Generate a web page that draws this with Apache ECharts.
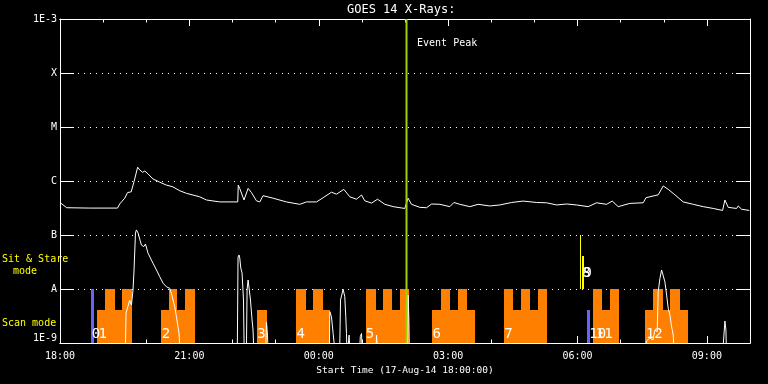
<!DOCTYPE html>
<html><head><meta charset="utf-8">
<script src="https://cdn.jsdelivr.net/npm/echarts@6/dist/echarts.min.js"></script>
<style>html,body{margin:0;padding:0;background:#000;}#c{width:768px;height:384px;}</style>
</head><body><div id="c"></div>
<script>
// ---------- data (time = minutes after 17-Aug-14 18:00) ----------
const START_HOUR = 18;
const X_MAX = 960;
const yTickExponents = [-9, -8, -7, -6, -5, -4, -3];
const yTickLabels = ['1E-9', 'A', 'B', 'C', 'M', 'X', '1E-3'];

// GOES 14 long channel (1-8 A) flux, W/m^2
const longChannel = [
 [0,4.0e-7],[9.3,3.2e-7],[41,3.15e-7],[80,3.15e-7],[83,3.75e-7],[90,4.8e-7],[94,6.1e-7],[99,6.3e-7],[103,9.7e-7],[108,1.8e-6],
 [111,1.6e-6],[115,1.45e-6],[118,1.53e-6],[122.5,1.35e-6],[129.4,1.09e-6],[138.8,9.5e-7],[148,8.4e-7],[157,7.8e-7],[166.6,6.6e-7],[176,5.9e-7],
 [194.4,5.1e-7],[203.8,4.45e-7],[222.3,4.1e-7],[247.3,4.1e-7],[248,8.4e-7],[250,7.3e-7],[252.5,7.8e-7],[256,4.45e-7],[261.7,7.3e-7],[266.4,6.1e-7],
 [273.3,4.3e-7],[278,4.1e-7],[282.5,5.35e-7],[296.5,4.8e-7],[315,4.1e-7],[333.6,3.7e-7],[343,4.1e-7],[357,4.1e-7],[366,4.9e-7],[377.7,6.2e-7],
 [384.7,5.7e-7],[394.9,7.0e-7],[403.2,5.1e-7],[412.5,4.6e-7],[419.5,5.5e-7],[424,4.3e-7],[433.4,3.9e-7],[441.8,4.6e-7],[452,3.7e-7],[463.5,3.35e-7],
 [479.7,3.1e-7],[484.3,4.8e-7],[489,3.7e-7],[500.6,3.25e-7],[510,3.2e-7],[517,3.75e-7],[528.5,3.7e-7],[542.4,3.35e-7],[548,4.0e-7],[556.3,3.7e-7],
 [570.2,3.35e-7],[581.8,3.7e-7],[598,3.45e-7],[612,3.6e-7],[628.3,4.0e-7],[644.4,4.25e-7],[663,4.0e-7],[677,3.95e-7],[691,3.6e-7],[704.8,3.75e-7],
 [718.7,3.6e-7],[734.9,3.35e-7],[746.5,3.95e-7],[760.5,3.7e-7],[768.3,4.25e-7],[776.6,3.35e-7],[792.9,3.85e-7],[811.4,3.95e-7],[815.2,4.9e-7],[832.3,5.55e-7],
 [839.3,8.1e-7],[846.2,7.0e-7],[855.5,5.55e-7],[867,4.1e-7],[881,3.7e-7],[894.9,3.35e-7],[908.9,3.1e-7],[921.9,2.85e-7],[925.1,4.45e-7],[929.7,3.25e-7],
 [941.4,3.1e-7],[943.6,3.45e-7],[948.4,3.0e-7],[959,2.85e-7]
];

// GOES 14 short channel (0.5-4 A) flux, W/m^2 (mostly below 1E-9)
const shortChannel = [
 [0,5e-10],[90.7,5e-10],[91.9,3.6e-9],[94.6,4.8e-9],[97,6.25e-9],[99.4,5.05e-9],[101.6,9.6e-9],[103,2.25e-8],[105,1.09e-7],[106.3,1.24e-7],
 [108.6,1.09e-7],[113.3,6.5e-8],[116.5,6.1e-8],[118.9,6.8e-8],[122.5,4.6e-8],[129.4,3.0e-8],[134.2,2.25e-8],[138.8,1.69e-8],[143.4,1.28e-8],[148.1,1.1e-8],
 [152.7,1.03e-8],[155,8.3e-9],[159.6,4.7e-9],[162,3.07e-9],[165.6,1.51e-9],[167.6,5e-10],
 [246.6,5e-10],[247.7,3.9e-8],[249.1,4.27e-8],[250.1,3.75e-8],[251.5,2.45e-8],[253.3,1.98e-8],[255.3,6.25e-9],[256.4,5e-10],
 [259.2,5e-10],[260.3,9.6e-9],[261.7,1.47e-8],[263,1.35e-8],[265,6.25e-9],[267.2,2.67e-9],[268.6,1.74e-9],[270,5e-10],
 [285.8,5e-10],[287.3,2.45e-9],[288.7,1.4e-9],[289.8,5e-10],
 [374.7,5e-10],[375.4,3.8e-9],[377.7,3.07e-9],[380,1.5e-9],[382.3,1.4e-9],[383.7,5e-10],
 [388.9,5e-10],[389.7,2.0e-9],[390.3,6.25e-9],[393.9,9.9e-9],[396.2,7.2e-9],[397.6,3.07e-9],[398.6,1.5e-9],[399.4,5e-10],[402.2,1.4e-9],[403.9,5e-10],
 [416.4,5e-10],[417.8,1.31e-9],[419.5,1.5e-9],[420.9,5e-10],
 [439.4,5e-10],[440.4,1.4e-9],[442.2,5e-10],
 [483.2,5e-10],[484.3,7.7e-9],[485.3,3.07e-9],[486.3,5e-10],
 [814.5,5e-10],[815.9,1.09e-9],[820.7,1.24e-9],[825,1.14e-9],[827.7,1.74e-9],[830.9,1.62e-9],[832.3,8.9e-9],[834.7,1.58e-8],[837,2.25e-8],[839.3,2.09e-8],
 [841.6,1.36e-8],[844,7.7e-9],[846.2,4.4e-9],[848.6,3.3e-9],[850.9,2.0e-9],[853.2,1.4e-9],[854.8,5e-10],
 [921.4,5e-10],[925.1,2.55e-9],[926.5,1.74e-9],[927.5,5e-10],[960,5e-10]
];

// Scan-mode blocks: [start, end, level]
const scanFloor = 1e-9;
const scanSegments = [
 [51.1,62.2,4.08e-9],[62.2,76.1,1e-8],[76.1,85.9,4.08e-9],[85.9,99.8,1e-8],
 [140,151.7,4.08e-9],[151.7,163.4,1e-8],[163.4,174.5,4.08e-9],[174.5,187.5,1e-8],
 [273.8,287.7,4.08e-9],
 [328.1,342,1e-8],[342,352.1,4.08e-9],[352.1,365.6,1e-8],[365.6,376.3,4.08e-9],
 [425.4,439.3,1e-8],[439.3,449.6,4.08e-9],[449.6,462.6,1e-8],[462.6,472.8,4.08e-9],[472.8,485.3,1e-8],
 [517.3,529.8,4.08e-9],[529.8,542.3,1e-8],[542.3,553.9,4.08e-9],[553.9,565.6,1e-8],[565.6,577.2,4.08e-9],
 [617.5,629.6,1e-8],[629.6,641.2,4.08e-9],[641.2,653.7,1e-8],[653.7,664.8,4.08e-9],[664.8,677,1e-8],
 [741,754,1e-8],[754,765.2,4.08e-9],[765.2,777.7,1e-8],
 [813.8,825,4.08e-9],[825,838.4,1e-8],[838.4,848.6,4.08e-9],[848.6,862.5,1e-8],[862.5,873.6,4.08e-9]
];
// Blue single scans: [start, end, level]
const blueSegments = [[42.9,47.2,1e-8],[733.5,737.3,4.08e-9]];
// Sit & Stare marks: [start, end, from, to]
const sitStareSegments = [[723.8,725.2,1e-8,1e-7],[726.1,728.9,1e-8,4.08e-8]];
// Sequence numbers: [time, text]
const scanLabels = [[44.1,'0'],[53.6,'1'],[141.5,'2'],[274.6,'3'],[328.9,'4'],[425.5,'5'],[518.1,'6'],[618,'7'],[736.3,'10'],[745.5,'11'],[815.2,'12']];
const sitStareLabels = [[726.3,'8'],[728.2,'9']];
const eventPeak = 482.1;
const eventLabel = 'Event Peak';

// ---------- chart ----------
const F = '"DejaVu Sans Mono", monospace';
const W = '#ffffff';
const pad = n => (n < 10 ? '0' : '') + n;
const fmtTime = m => {
  if (Math.round(m) % 180 !== 0) return '';
  const h = (START_HOUR + Math.round(m / 60)) % 24;
  return pad(h) + ':00';
};
const fmtFlux = v => {
  const e = Math.round(Math.log10(v));
  const i = yTickExponents.indexOf(e);
  return i >= 0 ? yTickLabels[i] : '';
};
const lineSty = { color: W, width: 1 };

function xAx(pos, interval, len, labels) {
  const a = {
    type: 'value', position: pos, min: 0, max: X_MAX, interval: interval,
    axisLine: { show: true, onZero: false, lineStyle: lineSty },
    axisTick: { show: true, inside: true, length: len, lineStyle: lineSty },
    axisLabel: { show: labels, color: W, fontFamily: F, fontSize: 10, margin: 8, showMaxLabel: false, formatter: fmtTime },
    splitLine: { show: false }
  };
  if (labels) {
    a.name = 'Start Time (17-Aug-14 18:00:00)';
    a.nameLocation = 'middle';
    a.nameGap = 21;
    a.nameTextStyle = { color: W, fontFamily: F, fontSize: 9.5 };
  }
  return a;
}
function yAx(pos, labels, split) {
  return {
    type: 'log', logBase: 10, position: pos, min: 1e-9, max: 1e-3,
    axisLine: { show: true, onZero: false, lineStyle: lineSty },
    axisTick: { show: true, inside: true, length: 14, lineStyle: lineSty },
    axisLabel: { show: labels, color: W, fontFamily: F, fontSize: 10, margin: 3, formatter: fmtFlux,
      verticalAlignMinLabel: 'bottom', verticalAlignMaxLabel: 'top' },
    splitLine: { show: split, lineStyle: { color: W, width: 1, type: [1, 5] } },
    minorTick: { show: false }
  };
}
function rectRender(color) {
  return function (params, api) {
    const p0 = api.coord([api.value(0), api.value(2)]);
    const p1 = api.coord([api.value(1), api.value(3)]);
    const x0 = Math.round(Math.min(p0[0], p1[0])), x1 = Math.round(Math.max(p0[0], p1[0]));
    const y0 = Math.round(Math.min(p0[1], p1[1])), y1 = Math.round(Math.max(p0[1], p1[1]));
    return {
      type: 'rect',
      shape: { x: x0, y: y0, width: Math.max(1, x1 - x0), height: y1 - y0 },
      style: { fill: color }
    };
  };
}
function textRender(list, dy, size) {
  return function (params, api) {
    const p = api.coord([api.value(0), api.value(1)]);
    return {
      type: 'text', x: p[0], y: p[1] + dy,
      style: { text: list[params.dataIndex][1], fill: W, font: size + 'px ' + F,
        textAlign: 'left', textVerticalAlign: 'bottom', align: 'left', verticalAlign: 'bottom' }
    };
  };
}

const chart = echarts.init(document.getElementById('c'), null, { renderer: 'canvas' });
chart.setOption({
  backgroundColor: '#000000',
  animation: false,
  title: { text: 'GOES 14 X-Rays:', left: 347, top: 4, padding: 0,
    textStyle: { color: W, fontFamily: F, fontSize: 12, fontWeight: 'normal' } },
  grid: { left: 60, right: 18, top: 19, bottom: 41, containLabel: false, outerBoundsMode: 'none' },
  xAxis: [xAx('bottom', 180, 7, true), xAx('bottom', 60, 3.5, false), xAx('top', 180, 7, false), xAx('top', 60, 3.5, false)],
  yAxis: [yAx('left', true, true), yAx('right', false, false)],
  graphic: [
    { type: 'text', x: 2, y: 259, style: { text: 'Sit & Stare', fill: '#ffff00', font: '10px ' + F, textVerticalAlign: 'middle', verticalAlign: 'middle' } },
    { type: 'text', x: 13, y: 271, style: { text: 'mode', fill: '#ffff00', font: '10px ' + F, textVerticalAlign: 'middle', verticalAlign: 'middle' } },
    { type: 'text', x: 2, y: 323, style: { text: 'Scan mode', fill: '#ffff00', font: '10px ' + F, textVerticalAlign: 'middle', verticalAlign: 'middle' } }
  ],
  series: [
    { type: 'custom', name: 'scan', silent: true, z: 2, renderItem: rectRender('#ff8000'),
      encode: { x: [0, 1], y: [2, 3] },
      data: scanSegments.map(s => [s[0], s[1], scanFloor, s[2]]) },
    { type: 'custom', name: 'single', silent: true, z: 2, renderItem: rectRender('#6464ff'),
      encode: { x: [0, 1], y: [2, 3] },
      data: blueSegments.map(s => [s[0], s[1], scanFloor, s[2]]) },
    { type: 'custom', name: 'sitstare', silent: true, z: 2, renderItem: rectRender('#ffff00'),
      encode: { x: [0, 1], y: [2, 3] },
      data: sitStareSegments.map(s => [s[0], s[1], s[2], s[3]]) },
    { type: 'line', name: 'long', silent: true, z: 3, symbol: 'none', showSymbol: false, smooth: false,
      lineStyle: { color: W, width: 1 }, data: longChannel, clip: true },
    { type: 'line', name: 'short', silent: true, z: 3, symbol: 'none', showSymbol: false, smooth: false,
      lineStyle: { color: W, width: 1 }, data: shortChannel, clip: true },
    { type: 'custom', name: 'scanLabels', silent: true, z: 4, renderItem: textRender(scanLabels, -2, 14),
      encode: { x: 0, y: 1 }, data: scanLabels.map(l => [l[0], scanFloor]) },
    { type: 'custom', name: 'ssLabels', silent: true, z: 4, renderItem: textRender(sitStareLabels, -8.5, 14),
      encode: { x: 0, y: 1 }, data: sitStareLabels.map(l => [l[0], 1e-8]) },
    { type: 'custom', name: 'event', silent: true, z: 5,
      encode: { x: 0, y: 1 }, data: [[eventPeak, 1e-3]],
      renderItem: function (params, api) {
        const top = api.coord([api.value(0), 1e-3]);
        const bot = api.coord([api.value(0), 1e-9]);
        return { type: 'group', children: [
          { type: 'line', shape: { x1: top[0], y1: top[1], x2: bot[0], y2: bot[1] }, style: { stroke: '#a0d000', lineWidth: 2 } },
          { type: 'text', x: top[0] + 10.5, y: top[1] + 24,
            style: { text: eventLabel, fill: W, font: '10px ' + F, textAlign: 'left', textVerticalAlign: 'middle', align: 'left', verticalAlign: 'middle' } }
        ] };
      } }
  ]
});
</script>
</body></html>
